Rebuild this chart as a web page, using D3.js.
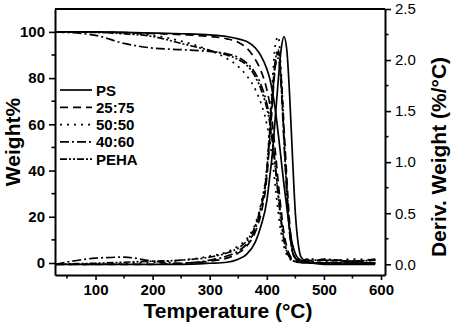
<!DOCTYPE html>
<html>
<head>
<meta charset="utf-8">
<script src="https://cdn.jsdelivr.net/npm/d3@7"></script>
<style>
  body { margin: 0; background: #fff; }
  svg { display: block; font-family: "Liberation Sans", Arial, sans-serif; }
</style>
</head>
<body>
<svg id="chart" width="453" height="323"></svg>
<script>
// temperature grid (°C) shared by all series
const temps = [30, 100, 150, 200, 250, 300, 330, 350, 365, 380, 390, 400, 405, 410, 415, 420, 425, 430, 435, 440, 445, 450, 455, 460, 470, 480, 500, 550, 590];

const seriesNames = ['PS', '25:75', '50:50', '40:60', 'PEHA'];

// weight % (left axis)
const weightPS    = [100, 100, 99.8, 99.5, 99.2, 98.7, 98, 97, 95.8, 93, 89.5, 84, 80, 74, 66, 56, 45, 34, 24, 15, 8, 4, 2, 1, 0.3, 0.1, 0, 0, 0];
const weight2575  = [100, 100, 99.7, 99.3, 98.8, 98, 97, 95.5, 93, 88, 83, 75, 69, 60, 48, 35, 23, 13, 7, 3.5, 1.8, 1, 0.5, 0.3, 0.1, 0, 0, 0, 0];
const weight5050  = [100, 99.8, 99.3, 98.5, 96, 92, 88.5, 85, 81, 75, 69, 60, 53, 44, 33, 22, 13, 7, 3.5, 1.8, 1, 0.5, 0.3, 0.2, 0.1, 0, 0, 0, 0];
const weight4060  = [100, 98.5, 95, 93, 92.3, 91.5, 90.5, 89, 86.5, 82, 77, 69, 63, 54, 42, 30, 19, 10, 5, 2.5, 1.2, 0.6, 0.3, 0.2, 0.1, 0, 0, 0, 0];
const weightPEHA  = [100, 99.8, 99.2, 98, 95, 92, 90, 88, 85.5, 80.5, 75, 67, 61, 52, 41, 29, 18, 10, 5, 2.5, 1.2, 0.6, 0.3, 0.2, 0.1, 0, 0, 0, 0];

// derivative weight %/°C (right axis)
const derivPS     = [0, 0, 0, 0, 0, 0.01, 0.02, 0.05, 0.1, 0.22, 0.38, 0.62, 0.85, 1.1, 1.45, 1.8, 2.1, 2.23, 2.1, 1.65, 1.05, 0.5, 0.2, 0.07, 0.02, 0.01, 0, 0, 0];
const deriv2575   = [0, 0, 0, 0, 0.01, 0.03, 0.06, 0.11, 0.18, 0.32, 0.5, 0.85, 1.2, 1.6, 1.95, 2.08, 1.85, 1.35, 0.85, 0.4, 0.15, 0.06, 0.04, 0.03, 0.04, 0.03, 0.04, 0.03, 0.04];
const deriv5050   = [0, 0, 0.01, 0.02, 0.04, 0.08, 0.12, 0.18, 0.25, 0.4, 0.6, 0.95, 1.35, 1.8, 2.15, 2.23, 1.9, 1.3, 0.75, 0.35, 0.13, 0.06, 0.04, 0.05, 0.03, 0.05, 0.03, 0.05, 0.04];
const deriv4060   = [0, 0.06, 0.07, 0.03, 0.01, 0.04, 0.08, 0.13, 0.2, 0.35, 0.55, 0.9, 1.25, 1.65, 1.95, 2.02, 1.75, 1.2, 0.7, 0.3, 0.12, 0.06, 0.04, 0.03, 0.05, 0.03, 0.05, 0.03, 0.05];
const derivPEHA   = [0, 0.01, 0.02, 0.03, 0.04, 0.07, 0.11, 0.16, 0.23, 0.38, 0.58, 0.92, 1.3, 1.7, 2.0, 2.1, 1.8, 1.25, 0.72, 0.32, 0.12, 0.06, 0.04, 0.04, 0.03, 0.04, 0.04, 0.03, 0.04];

const xTicks = [100, 200, 300, 400, 500, 600];
const yLeftTicks = [0, 20, 40, 60, 80, 100];
const yRightTicks = [0.0, 0.5, 1.0, 1.5, 2.0, 2.5];

(function () {
    var weights = [weightPS, weight2575, weight5050, weight4060, weightPEHA];
    var derivs = [derivPS, deriv2575, deriv5050, deriv4060, derivPEHA];
    var dashes = [null, '8,5', '2,5', '9,3,2,3', '7,2,2,2,2,2'];

    var svg = d3.select('#chart');
    var left = 55, right = 385, plotTop = 9, bottom = 275;

    var x = d3.scaleLinear().domain([29, 607]).range([left, right]);
    var yL = d3.scaleLinear().domain([-5.2, 109.9]).range([bottom, plotTop]);
    var yR = d3.scaleLinear().domain([-0.105, 2.5]).range([bottom, plotTop]);

    // frame (top edge)
    svg.append('line').attr('x1', left).attr('x2', right).attr('y1', plotTop).attr('y2', plotTop)
        .attr('stroke', '#000').attr('stroke-width', 2);

    function styleAxis(g) {
        g.select('.domain').attr('stroke-width', 2);
        g.selectAll('.tick line').attr('stroke-width', 1.6);
    }

    // bottom axis
    var xAxis = svg.append('g').attr('transform', 'translate(0,' + bottom + ')')
        .call(d3.axisBottom(x).tickValues(xTicks).tickSize(5).tickSizeOuter(0).tickPadding(4).tickFormat(d3.format('d')));
    xAxis.selectAll('.tick text').attr('font-size', 15).attr('font-weight', 'bold').attr('fill', '#000');
    styleAxis(xAxis);
    xAxis.selectAll('.minor').data(d3.range(50, 600, 100)).enter().append('line')
        .attr('x1', function (d) { return x(d); }).attr('x2', function (d) { return x(d); })
        .attr('y1', 0).attr('y2', 3.5).attr('stroke', '#000').attr('stroke-width', 1.6);

    // left axis
    var yAxisL = svg.append('g').attr('transform', 'translate(' + left + ',0)')
        .call(d3.axisLeft(yL).tickValues(yLeftTicks).tickSize(6).tickSizeOuter(0).tickPadding(4));
    yAxisL.selectAll('.tick text').attr('font-size', 15).attr('font-weight', 'bold').attr('fill', '#000');
    styleAxis(yAxisL);
    yAxisL.selectAll('.minor').data(d3.range(10, 110, 20)).enter().append('line')
        .attr('y1', function (d) { return yL(d); }).attr('y2', function (d) { return yL(d); })
        .attr('x1', 0).attr('x2', -3.5).attr('stroke', '#000').attr('stroke-width', 1.6);

    // right axis
    var yAxisR = svg.append('g').attr('transform', 'translate(' + right + ',0)')
        .call(d3.axisRight(yR).tickValues(yRightTicks).tickSize(6).tickSizeOuter(0).tickPadding(4).tickFormat(d3.format('.1f')));
    yAxisR.selectAll('.tick text').attr('font-size', 15).attr('fill', '#000');
    styleAxis(yAxisR);
    yAxisR.selectAll('.minor').data(d3.range(0.25, 2.5, 0.5)).enter().append('line')
        .attr('y1', function (d) { return yR(d); }).attr('y2', function (d) { return yR(d); })
        .attr('x1', 0).attr('x2', 3.5).attr('stroke', '#000').attr('stroke-width', 1.6);

    // curves
    var plot = svg.append('g');
    function drawCurve(values, scaleY, dash) {
        var line = d3.line()
            .x(function (d, i) { return x(temps[i]); })
            .y(function (d) { return scaleY(d); })
            .curve(d3.curveMonotoneX);
        plot.append('path')
            .datum(values)
            .attr('d', line)
            .attr('fill', 'none')
            .attr('stroke', '#000')
            .attr('stroke-width', 1.7)
            .attr('stroke-dasharray', dash);
    }
    seriesNames.forEach(function (name, i) {
        drawCurve(weights[i], yL, dashes[i]);
        drawCurve(derivs[i], yR, dashes[i]);
    });

    // legend
    var legend = svg.append('g').attr('transform', 'translate(60,90)');
    seriesNames.forEach(function (name, i) {
        var row = legend.append('g').attr('transform', 'translate(0,' + (i * 17.3) + ')');
        row.append('line').attr('x1', 0).attr('x2', 32).attr('y1', 0).attr('y2', 0)
            .attr('stroke', '#000').attr('stroke-width', 1.7).attr('stroke-dasharray', dashes[i]);
        row.append('text').attr('x', 36).attr('y', 5.5).attr('font-size', 15).attr('font-weight', 'bold').text(name);
    });

    // axis titles
    svg.append('text').attr('transform', 'translate(20,142) rotate(-90)')
        .attr('text-anchor', 'middle').attr('font-size', 21).attr('font-weight', 'bold').text('Weight%');
    svg.append('text').attr('x', 228).attr('y', 318)
        .attr('text-anchor', 'middle').attr('font-size', 21).attr('font-weight', 'bold').text('Temperature (°C)');
    svg.append('text').attr('transform', 'translate(446,157) rotate(-90)')
        .attr('text-anchor', 'middle').attr('font-size', 21).attr('font-weight', 'bold').text('Deriv. Weight (%/°C)');
})();
</script>
</body>
</html>
